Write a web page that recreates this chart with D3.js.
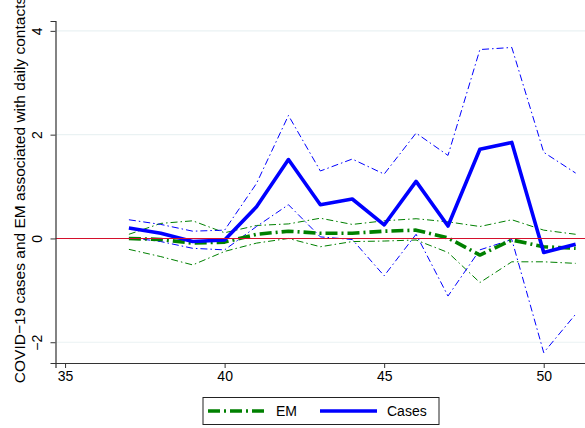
<!DOCTYPE html>
<html>
<head>
<meta charset="utf-8">
<script src="https://cdn.jsdelivr.net/npm/d3@7"></script>
<style>
  body { margin: 0; background: #fff; }
  text { font-family: "Liberation Sans", Arial, sans-serif; fill: #000; }
</style>
</head>
<body>
<svg id="chart" width="585" height="428"></svg>
<script>
const weeks = [37, 38, 39, 40, 41, 42, 43, 44, 45, 46, 47, 48, 49, 50, 51];

const cases = [0.2, 0.1, -0.06, -0.03, 0.61, 1.52, 0.65, 0.76, 0.26, 1.1, 0.24, 1.72, 1.85, -0.27, -0.11];
const casesHi = [0.36, 0.27, 0.14, 0.16, 1.06, 2.37, 1.3, 1.53, 1.24, 2.03, 1.6, 3.64, 3.68, 1.66, 1.26];
const casesLo = [0.02, -0.06, -0.19, -0.22, 0.23, 0.65, 0.03, -0.02, -0.72, 0.08, -1.11, -0.22, -0.02, -2.2, -1.46];

const em = [0.0, -0.02, -0.09, -0.07, 0.08, 0.14, 0.1, 0.1, 0.14, 0.16, 0.01, -0.32, -0.03, -0.16, -0.19];
const emHi = [0.08, 0.29, 0.34, 0.11, 0.25, 0.28, 0.39, 0.27, 0.34, 0.38, 0.32, 0.23, 0.36, 0.16, 0.08];
const emLo = [-0.21, -0.35, -0.51, -0.25, -0.09, 0.0, -0.16, -0.06, -0.05, -0.03, -0.27, -0.85, -0.45, -0.45, -0.48];

const xTicks = [35, 40, 45, 50];
const yTicks = [-2, 0, 2, 4];
const yTitle = "COVID\u221219 cases and EM associated with daily contacts";

const svg = d3.select("#chart");

const x = d3.scaleLinear().domain([34.7, 51.3]).range([55.5, 585.2]);
const y = d3.scaleLinear().domain([-2.4, 4.19]).range([363, 21]);

// gridlines
svg.append("g")
  .selectAll("line")
  .data(yTicks.filter((t) => t !== 0))
  .join("line")
  .attr("x1", x.range()[0])
  .attr("x2", 585)
  .attr("y1", (d) => y(d))
  .attr("y2", (d) => y(d))
  .attr("stroke", "#eaf2f3")
  .attr("stroke-width", 1.2);

const line = (vals) =>
  d3.line()
    .x((d, i) => x(weeks[i]))
    .y((d) => y(d))(vals);

const series = [
  { vals: emHi, color: "#008000", width: 1, dash: "7,3,1.5,3" },
  { vals: emLo, color: "#008000", width: 1, dash: "7,3,1.5,3" },
  { vals: casesHi, color: "#0000ff", width: 1, dash: "7,3,1.5,3" },
  { vals: casesLo, color: "#0000ff", width: 1, dash: "7,3,1.5,3" },
  { vals: em, color: "#008000", width: 3.6, dash: "12,4,2,4" },
  { vals: cases, color: "#0000ff", width: 3.6, dash: null },
];

svg.append("g")
  .selectAll("path")
  .data(series)
  .join("path")
  .attr("d", (d) => line(d.vals))
  .attr("fill", "none")
  .attr("stroke", (d) => d.color)
  .attr("stroke-width", (d) => d.width)
  .attr("stroke-dasharray", (d) => d.dash)
  .attr("stroke-linejoin", "round");

// zero line
svg.append("line")
  .attr("x1", x.range()[0])
  .attr("x2", 585)
  .attr("y1", y(0))
  .attr("y2", y(0))
  .attr("stroke", "#d4102c")
  .attr("stroke-width", 1.1);

// axes
const xAxis = svg.append("g")
  .attr("transform", `translate(0,${y.range()[0]})`)
  .call(d3.axisBottom(x).tickValues(xTicks).tickSize(5).tickPadding(3));
xAxis.selectAll("text").attr("font-size", 14).attr("font-family", "Liberation Sans, Arial, sans-serif");

const yAxis = svg.append("g")
  .attr("transform", `translate(${x.range()[0]},0)`)
  .call(d3.axisLeft(y).tickValues(yTicks).tickSize(5).tickFormat((d) => (d < 0 ? "\u2212" + Math.abs(d) : d)));
yAxis.selectAll(".tick text")
  .attr("font-size", 14)
  .attr("font-family", "Liberation Sans, Arial, sans-serif")
  .attr("text-anchor", "middle")
  .attr("dy", null)
  .attr("x", null)
  .attr("transform", (d) => `translate(-14,0) rotate(-90)`);

[xAxis, yAxis].forEach((g) => {
  g.select(".domain").attr("stroke", "#333").attr("stroke-width", 1.2);
  g.selectAll(".tick line").attr("stroke", "#333");
});

// y title (touches the top edge, as in the original)
svg.append("text")
  .attr("transform", `translate(24.5,190) rotate(-90)`)
  .attr("text-anchor", "middle")
  .attr("font-size", 15.5)
  .text(yTitle);

// legend
const legend = svg.append("g");
legend.append("rect")
  .attr("x", 203)
  .attr("y", 397.5)
  .attr("width", 236)
  .attr("height", 27)
  .attr("fill", "#fff")
  .attr("stroke", "#222")
  .attr("stroke-width", 1);

const legendItems = [
  { label: "EM", color: "#008000", dash: "12,4,2,4", x0: 208, x1: 266 },
  { label: "Cases", color: "#0000ff", dash: null, x0: 320, x1: 377 },
];
legendItems.forEach((d) => {
  legend.append("line")
    .attr("x1", d.x0)
    .attr("x2", d.x1)
    .attr("y1", 411)
    .attr("y2", 411)
    .attr("stroke", d.color)
    .attr("stroke-width", 3.6)
    .attr("stroke-dasharray", d.dash);
  legend.append("text")
    .attr("x", d.x1 + 10)
    .attr("y", 416)
    .attr("font-size", 14)
    .text(d.label);
});
</script>
</body>
</html>
